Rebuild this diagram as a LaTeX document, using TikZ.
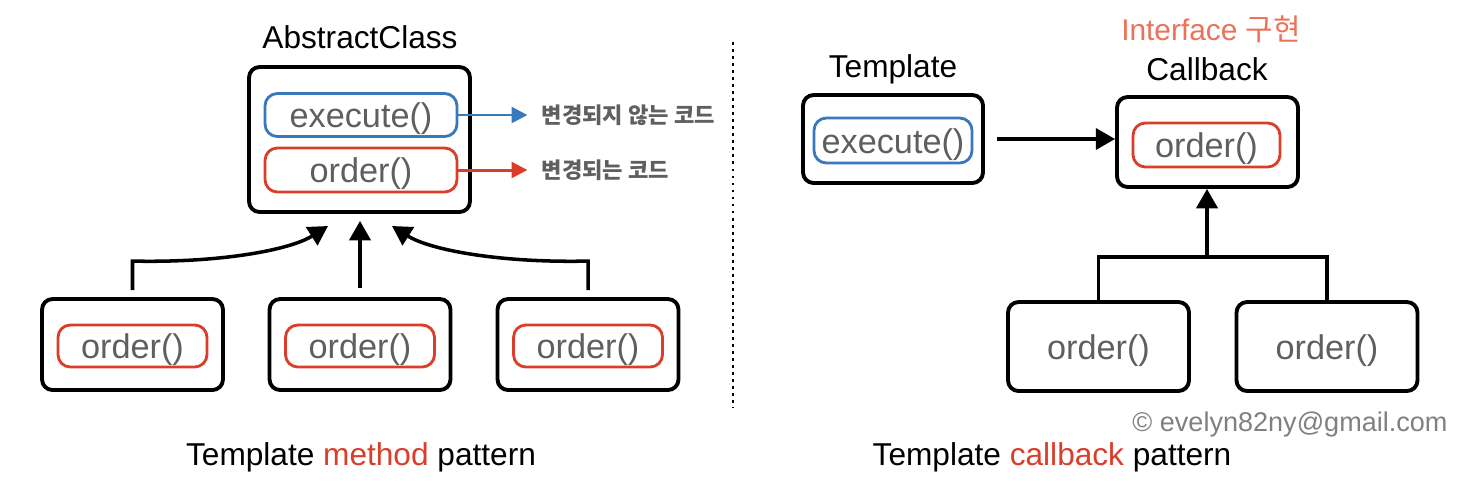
\documentclass[tikz,border=0pt]{standalone}
\usepackage{fontspec}
\setmainfont{Liberation Sans}
\newfontfamily\kofont{Noto Sans CJK KR}
\usepackage{tikz}
\usetikzlibrary{arrows.meta,positioning}
\definecolor{codeblue}{HTML}{3A78BE}
\definecolor{codered}{HTML}{DA3D2A}
\definecolor{ifcolor}{HTML}{EE7059}
\definecolor{codegray}{HTML}{5F5F5F}

\begin{document}
\begin{tikzpicture}[x=0.02cm, y=-0.02cm,
  box/.style={rectangle, draw, line width=2.2pt, rounded corners=6pt, minimum width=3.62cm, minimum height=1.8cm},
  method/.style={rectangle, draw, line width=1.6pt, rounded corners=7pt, minimum width=2.98cm, minimum height=0.84cm, inner sep=0pt, text height=16.6pt, text depth=2pt, text=codegray, font=\fontsize{19.5}{22}\selectfont},
  title/.style={font=\fontsize{18}{21}\selectfont},
  note/.style={inner sep=0pt, text=codegray, font=\fontsize{12.6}{15}\kofont\bfseries},
  inh/.style={line width=2pt, -{Triangle[length=11pt, width=12pt]}},
  keep/.style={line width=1.7pt, shorten >=0.28cm, -{Triangle[length=9pt, width=9pt]}},
  divider/.style={line width=1.6pt, dash pattern=on 1.6pt off 2.4pt}]
  \useasboundingbox (0,0) rectangle (1462,484);

  \node[title] (abstitle) at (360,37) {AbstractClass};
  \node[box, minimum width=4.42cm, minimum height=2.9cm] (abs) at (359.5,139.5) {};
  \node[method, draw=codeblue, minimum width=3.84cm, minimum height=0.86cm] (exe) at (361,115) {execute()};
  \node[method, draw=codered, minimum width=3.84cm, minimum height=0.88cm] (ord) at (361,170) {order()};
  \node[note, anchor=west, right=1.66cm of exe] (fixed) {변경되지 않는 코드};
  \node[note, anchor=west, right=1.66cm of ord] (changed) {변경되는 코드};
  \draw[keep, codeblue] (exe) -- (fixed);
  \draw[keep, codered] (ord) -- (changed);

  \foreach \x/\n in {132.5/a, 360/b, 588/c} {
    \node[box, minimum height=1.82cm] (sub\n) at (\x,344.5) {};
    \node[method, draw=codered] (subord\n) at (\x,346) {order()};
  }
  \coordinate (tipa) at (328,226);
  \coordinate (tipc) at (392,226);
  \draw[inh, shorten <=0.14cm] (suba.north) -- ++(0,-36) .. controls (220,263) and (290,250) .. (tipa);
  \draw[inh, shorten <=0.18cm, shorten >=0.14cm] (subb.north) -- (subb.north |- abs.south);
  \draw[inh, shorten <=0.14cm] (subc.north) -- ++(0,-36) .. controls (500,263) and (430,250) .. (tipc);

  \coordinate (dtop) at (733,42);
  \coordinate (dbot) at (733,408);
  \draw[divider] (dtop) -- (dbot);

  \node[title] (tmpltitle) at (893,69) {Template};
  \node[box, minimum width=3.6cm, minimum height=1.76cm] (tmpl) at (893,139) {};
  \node[method, draw=codeblue, minimum width=3.16cm, minimum height=0.9cm] (tmplexe) at (893,140.5) {execute()};
  \node[title, text=ifcolor, font=\fontsize{17}{20}\selectfont] (iface) at (1211,29) {Interface {\kofont 구현}};
  \node[title] (cbtitle) at (1207,69) {Callback};
  \node[box] (cb) at (1207.5,142) {};
  \node[method, draw=codered, minimum width=2.94cm, minimum height=0.88cm] (cbord) at (1206.5,145) {order()};
  \draw[inh, shorten <=0.24cm] (tmpl.east) -- (tmpl.east -| cb.west);

  \foreach \x/\n in {1098.5/a, 1327/b}
    \node[box, minimum height=1.78cm, text height=16.6pt, text depth=2pt, text=codegray, font=\fontsize{19.5}{22}\selectfont] (impl\n) at (\x,346.5) {order()};
  \coordinate (join) at (1207,257);
  \draw[line width=2pt] (impla.north) |- (join) -| (implb.north);
  \draw[inh] (join) -- (join |- cb.south);

  \node[text=gray, font=\fontsize{15.4}{18}\selectfont] (copy) at (1290,424) {© evelyn82ny@gmail.com};
  \node[title] (leftcap) at (361,457) {Template \textcolor{codered}{method} pattern};
  \node[title] (rightcap) at (1052,457) {Template \textcolor{codered}{callback} pattern};
\end{tikzpicture}
\end{document}
